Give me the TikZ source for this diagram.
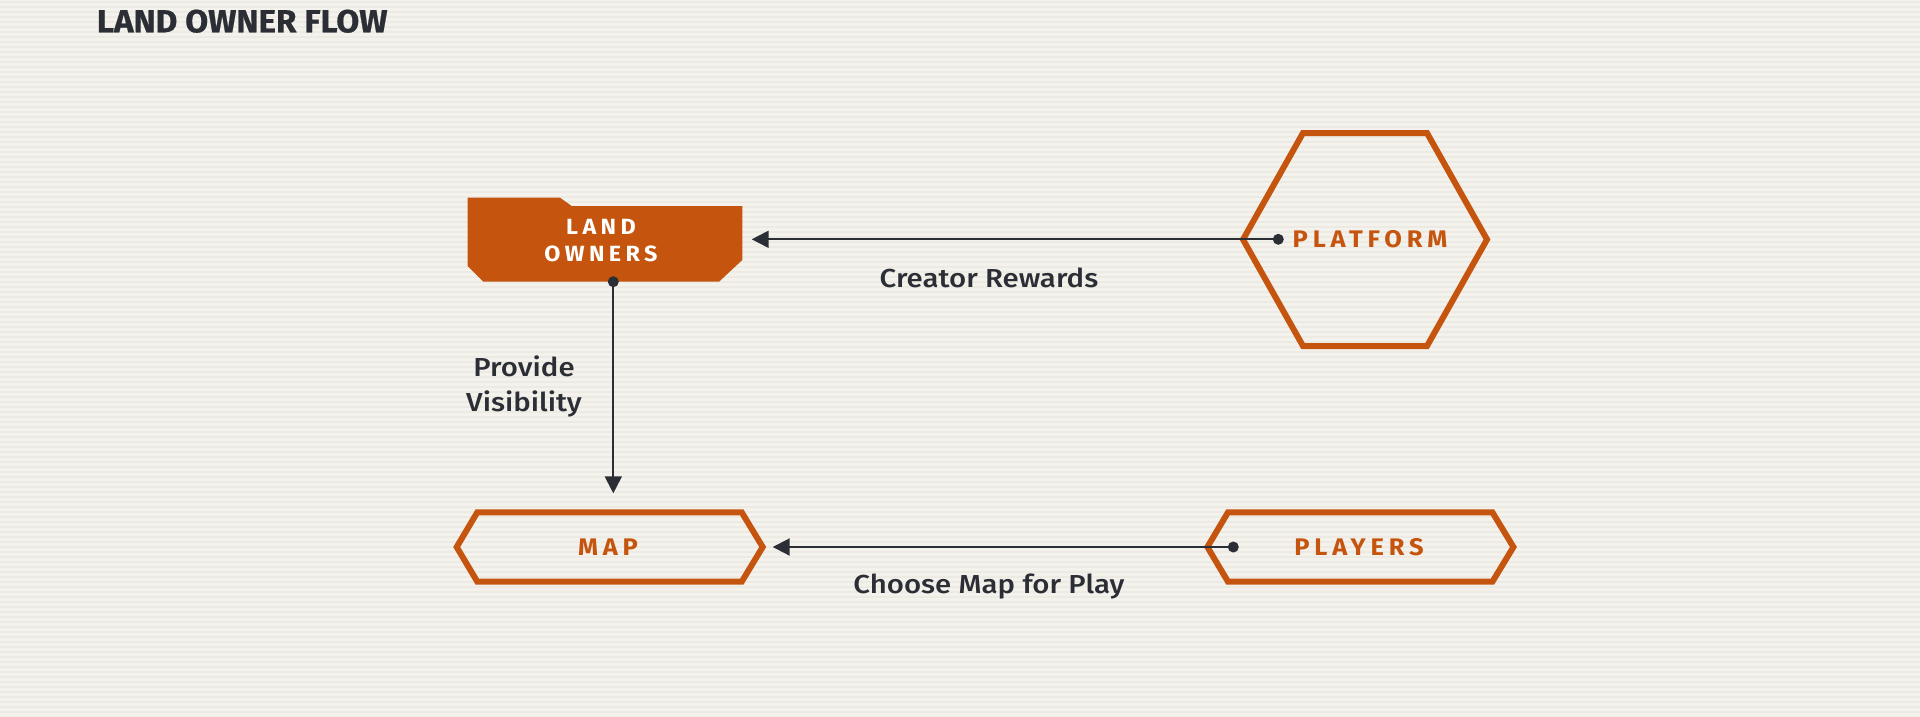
\documentclass[tikz,border=0pt]{standalone}
\usepackage{fontspec}
\setmainfont{Fira Sans}
\newfontfamily\labfont[FakeStretch=1.13]{Fira Sans Medium}
\newfontfamily\capsfont[LetterSpace=20,FakeStretch=1.06]{Fira Sans Bold}
\newfontfamily\titlefont[FakeStretch=1.04,FakeBold=0.6]{Fira Sans Bold}
\usetikzlibrary{arrows.meta}
\definecolor{bg}{HTML}{F4F2EC}
\definecolor{stripe}{HTML}{EDEAE3}
\definecolor{orng}{HTML}{C5550E}
\definecolor{ink}{HTML}{2B2E35}
\begin{document}
\begin{tikzpicture}[x=1pt,y=-1pt,
  hexline/.style={draw=orng,line width=6pt,line join=miter},
  flowline/.style={draw=ink,line width=2pt},
  flowarrow/.style={flowline,-{Triangle[length=17pt,width=17pt]}},
  dotmark/.style={fill=ink},
  boxtext/.style={font={\capsfont\fontsize{22}{27}\selectfont},align=center,inner sep=0pt},
  hextext/.style={font={\capsfont\fontsize{24}{26}\selectfont},text=orng,inner sep=0pt},
  lab/.style={font={\labfont\fontsize{26}{35}\selectfont},text=ink,align=center,inner sep=0pt}]
\fill[bg] (0,0) rectangle (1920,716);
\useasboundingbox (0,0) rectangle (1920,716);
\foreach \i in {0,...,143} \fill[stripe] (0,5*\i+1) rectangle (1920,5*\i+3);
% title
\node[anchor=base west,inner sep=0pt,text=ink,font={\titlefont\fontsize{32}{36}\selectfont}] (title) at (96.7,32.3) {LAND OWNER FLOW};
% land owners box
\fill[orng] (467.7,197.7) -- (560,197.7) -- (571.7,206) -- (742.3,206) -- (742.3,260) -- (719,281.7) -- (483.3,281.7) -- (467.7,266) -- cycle;
\node[boxtext,text=white] (lo) at (601,241) {LAND\\OWNERS};
% platform hexagon
\draw[hexline] (1243,239.5) -- (1303,133) -- (1427,133) -- (1487,239.5) -- (1427,346) -- (1303,346) -- cycle;
\node[hextext] (pf) at (1370,239.5) {PLATFORM};
% map
\draw[hexline] (456.7,547) -- (477.3,512.3) -- (741.7,512.3) -- (762.7,547) -- (741.7,581.7) -- (477.3,581.7) -- cycle;
\node[hextext] (map) at (608,547) {MAP};
% players
\draw[hexline] (1207.4,547) -- (1228,512.3) -- (1492.4,512.3) -- (1513.4,547) -- (1492.4,581.7) -- (1228,581.7) -- cycle;
\node[hextext] (pl) at (1359,547) {PLAYERS};
% connector points
\coordinate (pfdot) at (1278.3,239.3);
\coordinate (lotip) at (751.7,239.3);
\coordinate (lodot) at (613.3,281.7);
\coordinate (maptop) at (613.3,493.3);
\coordinate (pldot) at (1233.3,547);
\coordinate (mapright) at (772.7,547);
\draw[flowarrow] (pfdot) -- (lotip);
\draw[flowarrow] (lodot) -- (maptop);
\draw[flowarrow] (pldot) -- (mapright);
\fill[dotmark] (pfdot) circle (5.5);
\fill[dotmark] (lodot) circle (5.5);
\fill[dotmark] (pldot) circle (5.5);
% labels
\node[lab] (l1) at (989,278) {Creator Rewards};
\node[lab] (l2) at (989,587) {Choose Map for Play};
\node[lab] (l3) at (524,386) {Provide\\Visibility};
\end{tikzpicture}
\end{document}
